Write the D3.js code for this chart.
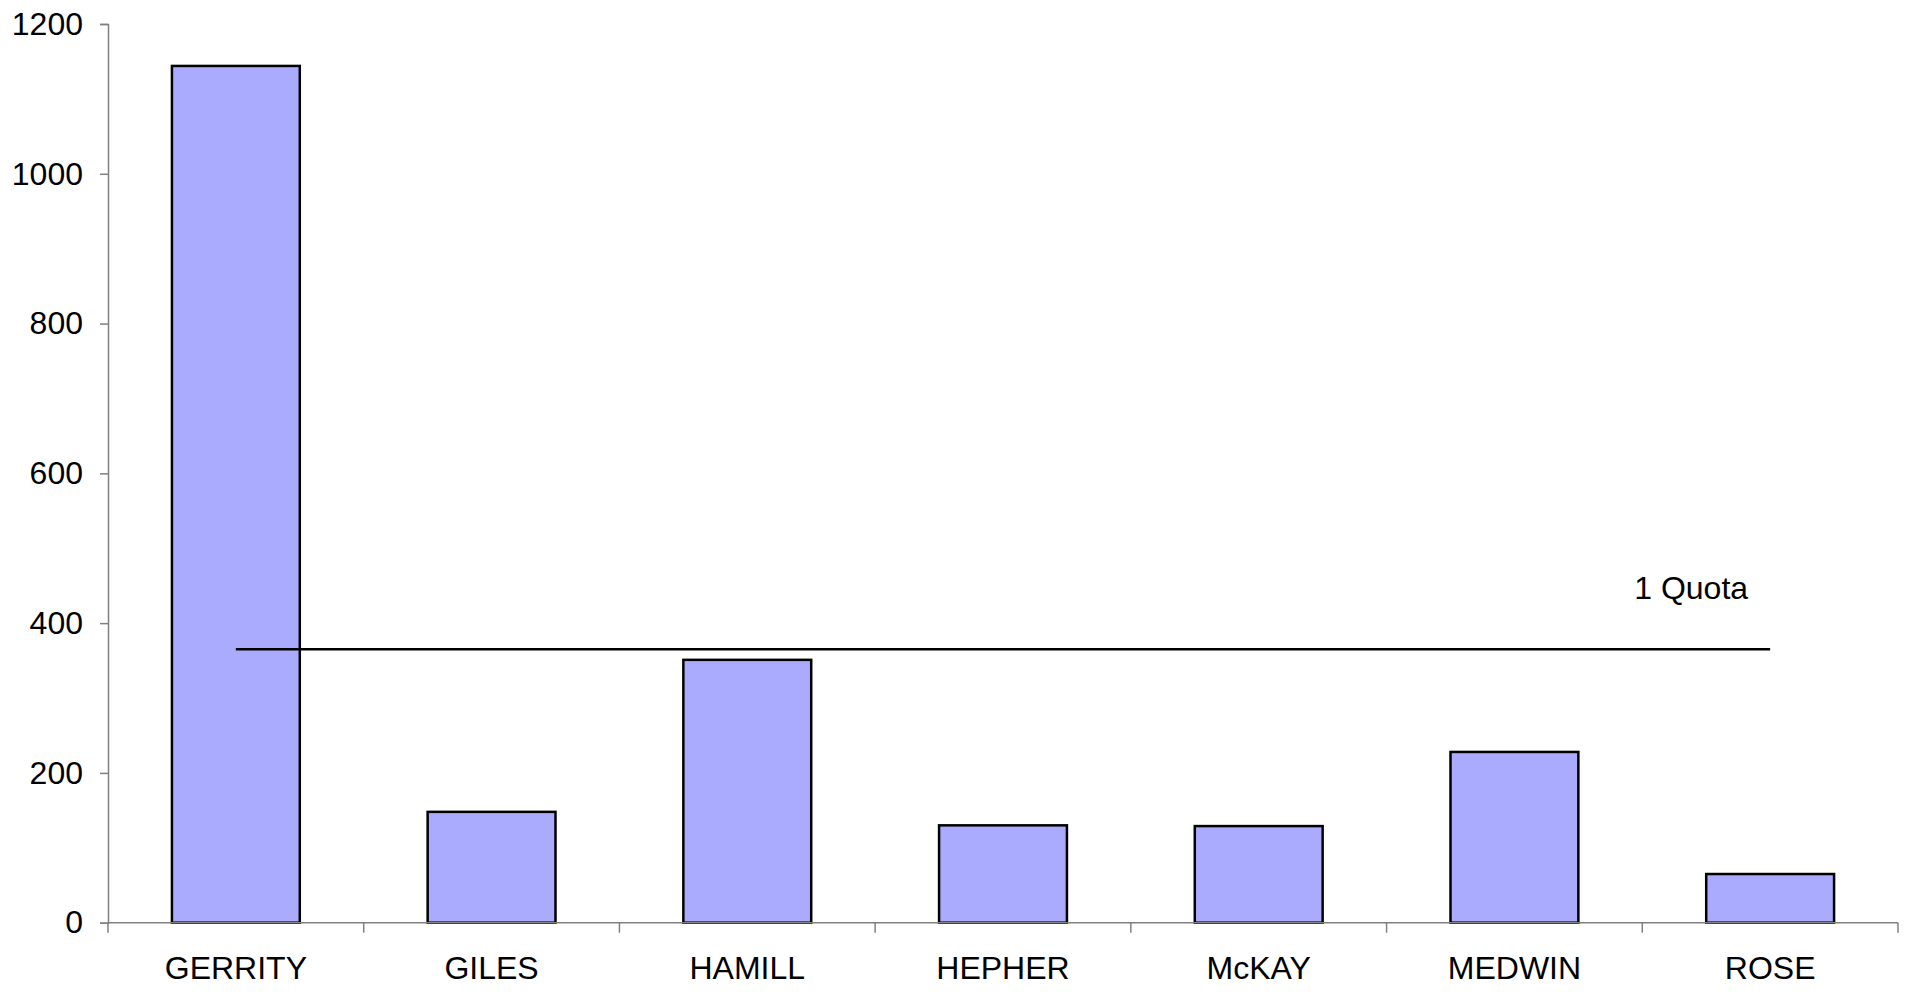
<!DOCTYPE html>
<html>
<head>
<meta charset="utf-8">
<script src="https://cdn.jsdelivr.net/npm/d3@7"></script>
<style>
  html, body { margin: 0; padding: 0; background: #fff; }
  svg text { font-family: Arial, "Liberation Sans", sans-serif; fill: #000; }
</style>
</head>
<body>
<div id="chart"></div>
<script>
(function(d3) {

  'use strict';

  var candidates = ['GERRITY', 'GILES', 'HAMILL', 'HEPHER', 'McKAY', 'MEDWIN', 'ROSE'];
  var votes = [1144, 148, 351, 130, 129, 228, 65];
  var quota = [365, 365, 365, 365, 365, 365, 365];
  var yTicks = [0, 200, 400, 600, 800, 1000, 1200];
  var quotaLabel = '1 Quota';

  var width = 1910, height = 993;
  var left = 108, right = 1898, top = 24, bottom = 922.7;
  var fontSize = '32px';

  var svg = d3.select('#chart')
    .append('svg')
    .attr('width', width)
    .attr('height', height);

  var x = d3.scaleBand()
    .domain(candidates)
    .range([left, right])
    .paddingInner(0.5)
    .paddingOuter(0.25);

  var y = d3.scaleLinear()
    .domain([0, 1200])
    .range([bottom, top]);

  // bars
  svg.append('g')
    .selectAll('rect')
    .data(candidates)
    .enter()
    .append('rect')
    .attr('x', function(d) { return x(d); })
    .attr('y', function(d, i) { return y(votes[i]); })
    .attr('width', x.bandwidth())
    .attr('height', function(d, i) { return y(0) - y(votes[i]); })
    .style('fill', '#aaaaff')
    .style('stroke', '#000')
    .style('stroke-width', 2.5);

  // y axis
  var yAxis = svg.append('g')
    .attr('transform', 'translate(' + left + ',0)')
    .call(d3.axisLeft(y)
      .tickValues(yTicks)
      .tickFormat(d3.format('d'))
      .tickSize(8)
      .tickPadding(17));
  yAxis.select('.domain').attr('stroke', '#808080').attr('stroke-width', 1.5);
  yAxis.selectAll('.tick line').attr('stroke', '#808080').attr('stroke-width', 1.5);
  yAxis.selectAll('.tick text')
    .style('font-size', fontSize)
    .style('font-family', 'Arial, "Liberation Sans", sans-serif')
    .attr('fill', '#000');

  // x axis line + boundary ticks
  var xAxis = svg.append('g');
  xAxis.append('line')
    .attr('x1', left).attr('x2', right)
    .attr('y1', y(0)).attr('y2', y(0))
    .attr('stroke', '#808080').attr('stroke-width', 1.5);

  var bounds = d3.range(candidates.length + 1).map(function(i) {
    return left + i * x.step();
  });
  xAxis.selectAll('line.tick')
    .data(bounds)
    .enter()
    .append('line')
    .attr('class', 'tick')
    .attr('x1', function(d) { return d; })
    .attr('x2', function(d) { return d; })
    .attr('y1', y(0))
    .attr('y2', y(0) + 10)
    .attr('stroke', '#808080').attr('stroke-width', 1.5);

  xAxis.selectAll('text')
    .data(candidates)
    .enter()
    .append('text')
    .attr('x', function(d) { return x(d) + x.bandwidth() / 2; })
    .attr('y', y(0) + 56)
    .attr('text-anchor', 'middle')
    .style('font-size', fontSize)
    .text(function(d) { return d; });

  // quota line
  var line = d3.line()
    .x(function(d, i) { return x(candidates[i]) + x.bandwidth() / 2; })
    .y(function(d) { return y(d); });

  svg.append('path')
    .datum(quota)
    .attr('d', line)
    .attr('fill', 'none')
    .attr('stroke', '#000')
    .attr('stroke-width', 2.5);

  var last = quota.length - 1;
  svg.append('text')
    .attr('x', x(candidates[last]) + x.bandwidth() / 2 - 79)
    .attr('y', y(quota[last]) - 50)
    .attr('text-anchor', 'middle')
    .style('font-size', fontSize)
    .text(quotaLabel);

})(d3);
</script>
</body>
</html>
